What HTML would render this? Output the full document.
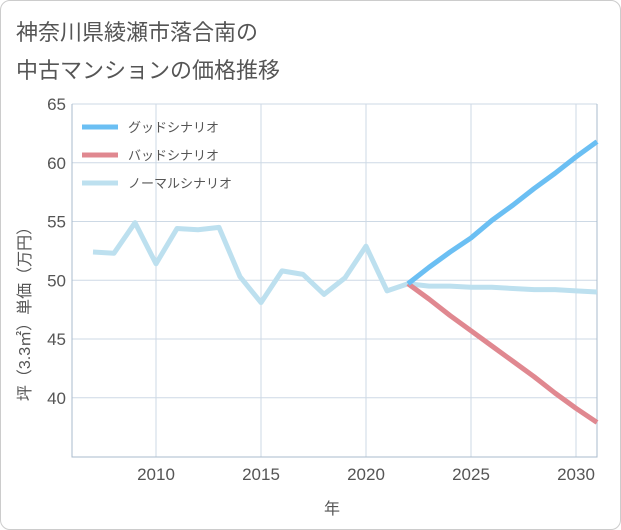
<!DOCTYPE html>
<html><head><meta charset="utf-8">
<style>
body{margin:0;background:#fff;}
.card{position:absolute;left:0;top:0;width:619px;height:528px;border:1px solid #ccc;border-radius:10px;background:#fff;}
text{font-family:"Liberation Sans","Noto Sans CJK JP",sans-serif;}
</style></head><body>
<div class="card"></div>
<svg id="chart" width="621" height="530" style="position:absolute;left:0;top:0">
<text x="16" y="40" font-size="22" fill="#555">神奈川県綾瀬市落合南の</text>
<text x="16" y="78" font-size="22" fill="#555">中古マンションの価格推移</text>
<g id="grid"></g><g id="series"></g><g id="legend"></g>
<text x="332" y="514" font-size="16" fill="#555" text-anchor="middle">年</text>
<text transform="translate(30,310) rotate(-90)" font-size="16" fill="#555" text-anchor="middle">坪（3.3㎡）単価（万円）</text>
</svg>
<script>
const years=[2007,2008,2009,2010,2011,2012,2013,2014,2015,2016,2017,2018,2019,2020,2021,2022];
const hist=[52.4,52.3,54.9,51.4,54.4,54.3,54.5,50.3,48.1,50.8,50.5,48.8,50.2,52.9,49.1,49.7];
const futYears=[2022,2023,2024,2025,2026,2027,2028,2029,2030,2031];
const good=[49.7,51.1,52.4,53.6,55.1,56.4,57.8,59.1,60.5,61.8];
const bad=[49.7,48.4,47.0,45.7,44.4,43.1,41.8,40.4,39.1,37.9];
const normal=[49.7,49.5,49.5,49.4,49.4,49.3,49.2,49.2,49.1,49.0];
const yTicks=[40,45,50,55,60,65];
const xTicks=[2010,2015,2020,2025,2030];
const L=72,R=597,T=104,B=457;
const x=v=>L+(v-2006)*(R-L)/25;
const y=v=>T+(65-v)*(339-104)/20;
const NS="http://www.w3.org/2000/svg";
function mk(p,tag,at){const e=document.createElementNS(NS,tag);for(const k in at)e.setAttribute(k,at[k]);p.appendChild(e);return e;}
const g=document.getElementById('grid');
yTicks.forEach(v=>{
 const l=mk(g,'line',{x1:L,x2:R,y1:y(v),y2:y(v),stroke:'#cdd9e5','stroke-width':1});
 
 
 const t=mk(g,'text',{x:L-6,y:y(v)+6,'font-size':17,fill:'#555','text-anchor':'end'});t.textContent=v;
 
 
});
xTicks.forEach(v=>{
 const l=mk(g,'line',{x1:x(v),x2:x(v),y1:T,y2:B,stroke:'#cdd9e5','stroke-width':1});
 
 
 const t=mk(g,'text',{x:x(v),y:B+23,'font-size':17,fill:'#555','text-anchor':'middle'});t.textContent=v;
 
 
});
const ax=mk(g,'path',{d:`M${L},${T}V${B}H${R}V${T}`,fill:'none',stroke:'#aabbcc','stroke-width':1});


const s=document.getElementById('series');
function line(xs,vs,col,name){const d=xs.map((v,i)=>(i?'L':'M')+x(v)+','+y(vs[i])).join('');
 const p=mk(s,'path',{d,fill:'none',stroke:col,'stroke-width':5,'stroke-linejoin':'round'});
 
 }
line(years,hist,'#bde0ef','normal-history-line');
line(futYears,normal,'#bde0ef','normal-scenario-line');
line(futYears,bad,'#e08890','bad-scenario-line');
line(futYears,good,'#6bbff3','good-scenario-line');
const lg=document.getElementById('legend');
[['グッドシナリオ','#6bbff3',127],['バッドシナリオ','#e08890',155],['ノーマルシナリオ','#bde0ef',183]].forEach(([n,c,yy])=>{
 const l=mk(lg,'line',{x1:82,x2:118,y1:yy,y2:yy,stroke:c,'stroke-width':5});
 
 
 const t=mk(lg,'text',{x:128,y:yy+5,'font-size':13,fill:'#555'});t.textContent=n;
 
 
});
</script>
</body></html>
